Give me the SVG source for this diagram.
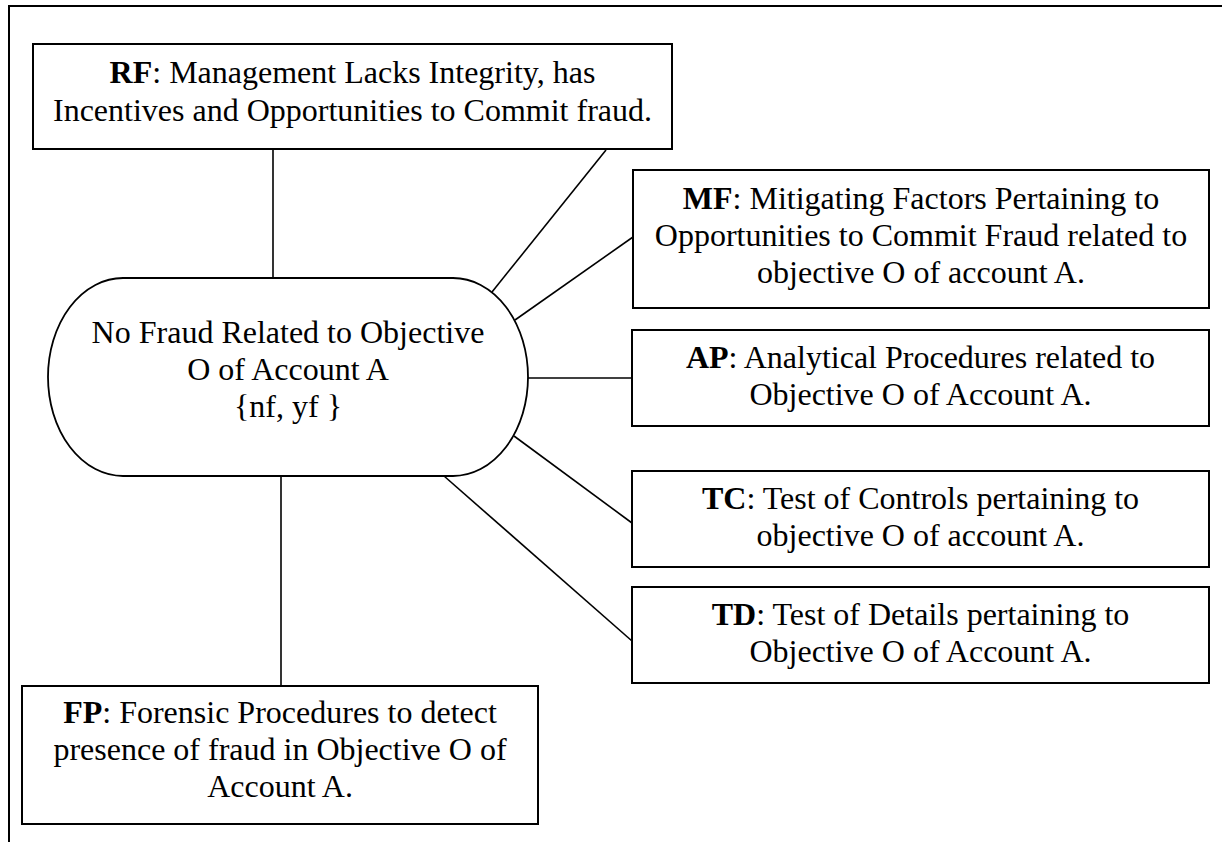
<svg xmlns="http://www.w3.org/2000/svg" width="1223" height="842" viewBox="0 0 1223 842">
<style>
.box{fill:#fff;stroke:#000;stroke-width:2}
.conn line{stroke:#000;stroke-width:1.6}
text{font-family:"Liberation Serif","Times New Roman","DejaVu Serif",serif;font-size:32px;fill:#000;text-anchor:middle}
.b{font-weight:bold}
</style>
<rect width="1223" height="842" fill="#fff"/>
<g id="frame" stroke="#000" stroke-width="2">
<line x1="8" y1="6" x2="1222" y2="6"/>
<line x1="9" y1="5" x2="9" y2="842"/>
</g>
<g class="conn" id="connectors">
<line x1="273" y1="149" x2="273" y2="278"/>
<line x1="606" y1="150" x2="492" y2="292"/>
<line x1="633" y1="237" x2="515" y2="320"/>
<line x1="528" y1="378" x2="632" y2="378"/>
<line x1="514" y1="436" x2="632" y2="523"/>
<line x1="444" y1="476" x2="632" y2="641"/>
<line x1="281" y1="476" x2="281" y2="686"/>
</g>
<g id="RF">
<rect class="box" x="33" y="44" width="639" height="105"/>
<text x="352.5" y="83"><tspan class="b">RF</tspan>: Management Lacks Integrity, has</text>
<text x="352.5" y="121">Incentives and Opportunities to Commit fraud.</text>
</g>
<g id="NF">
<rect x="48" y="278" width="480" height="198" rx="75" ry="99" fill="#fff" stroke="#000" stroke-width="1.8"/>
<text x="288" y="343">No Fraud Related to Objective</text>
<text x="288" y="380">O of Account A</text>
<text x="288" y="417">{nf, yf }</text>
</g>
<g id="MF">
<rect class="box" x="633" y="170" width="576" height="138"/>
<text x="921" y="209"><tspan class="b">MF</tspan>: Mitigating Factors Pertaining to</text>
<text x="921" y="246">Opportunities to Commit Fraud related to</text>
<text x="921" y="283">objective O of account A.</text>
</g>
<g id="AP">
<rect class="box" x="632" y="330" width="577" height="96"/>
<text x="920.5" y="368"><tspan class="b">AP</tspan>: Analytical Procedures related to</text>
<text x="920.5" y="405">Objective O of Account A.</text>
</g>
<g id="TC">
<rect class="box" x="632" y="471" width="577" height="96"/>
<text x="920.5" y="509"><tspan class="b">TC</tspan>: Test of Controls pertaining to</text>
<text x="920.5" y="546">objective O of account A.</text>
</g>
<g id="TD">
<rect class="box" x="632" y="587" width="577" height="96"/>
<text x="920.5" y="625"><tspan class="b">TD</tspan>: Test of Details pertaining to</text>
<text x="920.5" y="662">Objective O of Account A.</text>
</g>
<g id="FP">
<rect class="box" x="22" y="686" width="516" height="138"/>
<text x="280" y="723"><tspan class="b">FP</tspan>: Forensic Procedures to detect</text>
<text x="280" y="760">presence of fraud in Objective O of</text>
<text x="280" y="797">Account A.</text>
</g>
</svg>
